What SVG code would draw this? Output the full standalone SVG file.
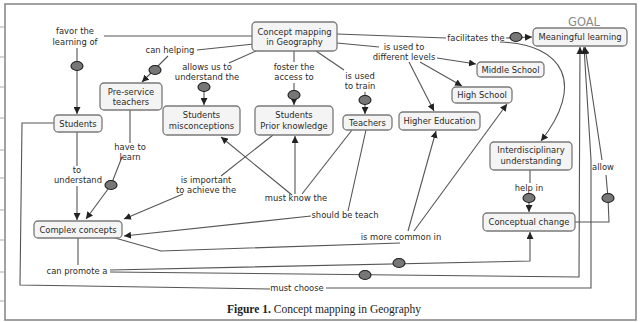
<svg xmlns="http://www.w3.org/2000/svg" width="641" height="322" viewBox="0 0 641 322">
<style>
.box{fill:#f4f4f4;stroke:#7a7a7a;stroke-width:1.3}
.nt{font-family:"DejaVu Sans",Verdana,sans-serif;font-size:8.4px;fill:#2a2a2a;text-anchor:middle}
.lt{font-family:"DejaVu Sans",Verdana,sans-serif;font-size:8.4px;fill:#2a2a2a;text-anchor:middle}
.ln{fill:none;stroke:#555;stroke-width:1.1}
.ar{marker-end:url(#ah)}
.dot{fill:#777;stroke:#1e1e1e;stroke-width:1.1}
.tick{stroke:#aaa;stroke-width:1}
</style>
<defs>
<marker id="ah" viewBox="0 0 8 8" refX="8" refY="4" markerWidth="7" markerHeight="7" markerUnits="userSpaceOnUse" orient="auto">
<path d="M0,0 L8,4 L0,8 z" fill="#222"/>
</marker>
</defs>
<rect width="641" height="322" fill="#fff"/>
<g id="frame">
<rect x="5" y="4" width="631" height="316" fill="#fff" stroke="#8a8a8a" stroke-width="1.6"/>
<line class="tick" x1="0" y1="27" x2="4" y2="27"/>
<line class="tick" x1="0" y1="57" x2="4" y2="57"/>
<line class="tick" x1="0" y1="87" x2="4" y2="87"/>
<line class="tick" x1="0" y1="118" x2="4" y2="118"/>
<line class="tick" x1="0" y1="150" x2="4" y2="150"/>
<line class="tick" x1="0" y1="178" x2="4" y2="178"/>
<line class="tick" x1="0" y1="210" x2="4" y2="210"/>
<line class="tick" x1="0" y1="240" x2="4" y2="240"/>
<line class="tick" x1="0" y1="272" x2="4" y2="272"/>
<line class="tick" x1="0" y1="301" x2="4" y2="301"/>
</g>
<g id="connectors">
<path class="ln" d="M252,36 L104,36"/>
<path class="ln ar" d="M77,48 L77,114"/>
<path class="ln" d="M254,44 L197,50"/>
<path class="ln ar" d="M168,56 L142,82"/>
<path class="ln" d="M256,51 L229,63"/>
<path class="ln ar" d="M204,83 L204,105"/>
<path class="ln" d="M294,51 L294,62"/>
<path class="ln ar" d="M294,83 L294,105"/>
<path class="ln" d="M316,51 L344,70"/>
<path class="ln ar" d="M365,92 L365,114"/>
<path class="ln" d="M337,43 L379,47"/>
<path class="ln ar" d="M437,58 L476,64"/>
<path class="ln ar" d="M420,62 L462,86"/>
<path class="ln ar" d="M409,62 L434,111"/>
<path class="ln" d="M337,34 L446,38"/>
<path class="ln ar" d="M506,38 L532,37"/>
<path class="ln ar" d="M500,42 C565,44 585,85 541,141"/>
<path class="ln" d="M54,123 L22,123 L20,285 L270,289"/>
<path class="ln ar" d="M326,288 L591,288 L591,160 L584,47"/>
<path class="ln" d="M78,238 L78,265"/>
<path class="ln ar" d="M110,270 L530,261 L530,232"/>
<path class="ln ar" d="M110,272 L579,277 L580,47"/>
<path class="ln" d="M77,132 L77,166"/>
<path class="ln ar" d="M77,186 L77,220"/>
<path class="ln" d="M130,110 L130,143"/>
<path class="ln ar" d="M122,157 L111,185 L86,219"/>
<path class="ln" d="M273,135 L221,176"/>
<path class="ln ar" d="M183,194 L124,219"/>
<path class="ln" d="M352,130 L302,194"/>
<path class="ln ar" d="M292,195 L221,137"/>
<path class="ln ar" d="M295,194 L295,136"/>
<path class="ln" d="M366,130 L348,211"/>
<path class="ln ar" d="M311,216 L124,236"/>
<path class="ln" d="M115,238 L161,251 L400,243"/>
<path class="ln ar" d="M408,231 L436,131"/>
<path class="ln ar" d="M414,231 L507,104"/>
<path class="ln" d="M530,170 L530,183"/>
<path class="ln ar" d="M529,193 L529,212"/>
<path class="ln" d="M575,222 L609,222 L608,198 L606,175"/>
<path class="ln ar" d="M602,160 L585,47"/>
<ellipse class="dot" cx="77" cy="66" rx="6" ry="4.5"/>
<ellipse class="dot" cx="155" cy="70" rx="6" ry="4.5"/>
<ellipse class="dot" cx="204" cy="87" rx="6" ry="4.5"/>
<ellipse class="dot" cx="294" cy="95" rx="6" ry="4.5"/>
<ellipse class="dot" cx="365" cy="100" rx="6" ry="4.5"/>
<ellipse class="dot" cx="516" cy="37" rx="6" ry="4.5"/>
<ellipse class="dot" cx="111" cy="185" rx="6" ry="4.5"/>
<ellipse class="dot" cx="529" cy="198" rx="6" ry="4.5"/>
<ellipse class="dot" cx="608" cy="198" rx="6" ry="4.5"/>
<ellipse class="dot" cx="399" cy="263" rx="6" ry="4.5"/>
<ellipse class="dot" cx="365" cy="275" rx="6" ry="4.5"/>
</g>
<g id="link-labels">
<text class="lt" x="75" y="34">favor the</text>
<text class="lt" x="75" y="45">learning of</text>
<text class="lt" x="170" y="53">can helping</text>
<text class="lt" x="207" y="70">allows us to</text>
<text class="lt" x="207" y="80">understand the</text>
<text class="lt" x="294" y="70">foster the</text>
<text class="lt" x="294" y="80">access to</text>
<text class="lt" x="360" y="79">is used</text>
<text class="lt" x="360" y="89">to train</text>
<text class="lt" x="404" y="50">is used to</text>
<text class="lt" x="404" y="60">different levels</text>
<text class="lt" x="476" y="41">facilitates the</text>
<text class="lt" x="130" y="150">have to</text>
<text class="lt" x="130" y="160">learn</text>
<text class="lt" x="77" y="173">to</text>
<text class="lt" x="78" y="183">understand</text>
<text class="lt" x="206" y="183">is important</text>
<text class="lt" x="206" y="193">to achieve the</text>
<text class="lt" x="296" y="201">must know the</text>
<text class="lt" x="345" y="218">should be teach</text>
<text class="lt" x="401" y="240">is more common in</text>
<text class="lt" x="529" y="191">help in</text>
<text class="lt" x="603" y="170">allow</text>
<text class="lt" x="77" y="274">can promote a</text>
<text class="lt" x="297" y="291">must choose</text>
</g>
<g id="concept-mapping">
<rect class="box" x="252" y="22" width="85" height="29" rx="4"/>
<text class="nt" x="294.5" y="35">Concept mapping</text>
<text class="nt" x="294.5" y="45">in Geography</text>
</g>
<g id="meaningful-learning">
<text x="584" y="26" font-family="DejaVu Sans, Verdana, sans-serif" font-size="11.5" fill="#8a8a8a" text-anchor="middle">GOAL</text>
<rect class="box" x="533" y="28" width="94" height="18" rx="4"/>
<text class="nt" x="580" y="40">Meaningful learning</text>
</g>
<g id="middle-school">
<rect class="box" x="477" y="62" width="67" height="15" rx="4"/>
<text class="nt" x="510.5" y="72.5">Middle School</text>
</g>
<g id="high-school">
<rect class="box" x="452" y="87" width="60" height="16" rx="4"/>
<text class="nt" x="482" y="98">High School</text>
</g>
<g id="higher-education">
<rect class="box" x="399" y="112" width="81" height="18" rx="4"/>
<text class="nt" x="439.5" y="124">Higher Education</text>
</g>
<g id="teachers">
<rect class="box" x="343" y="115" width="49" height="15" rx="4"/>
<text class="nt" x="367.5" y="125.5">Teachers</text>
</g>
<g id="prior-knowledge">
<rect class="box" x="255" y="106" width="78" height="29" rx="4"/>
<text class="nt" x="294" y="118">Students</text>
<text class="nt" x="294" y="129">Prior knowledge</text>
</g>
<g id="misconceptions">
<rect class="box" x="163" y="106" width="77" height="29" rx="4"/>
<text class="nt" x="201.5" y="118">Students</text>
<text class="nt" x="201.5" y="129">misconceptions</text>
</g>
<g id="pre-service">
<rect class="box" x="100" y="83" width="62" height="27" rx="4"/>
<text class="nt" x="131" y="95">Pre-service</text>
<text class="nt" x="131" y="105">teachers</text>
</g>
<g id="students">
<rect class="box" x="54" y="115" width="48" height="17" rx="4"/>
<text class="nt" x="78" y="126.5">Students</text>
</g>
<g id="complex-concepts">
<rect class="box" x="34" y="221" width="88" height="17" rx="4"/>
<text class="nt" x="78" y="232.5">Complex concepts</text>
</g>
<g id="interdisciplinary">
<rect class="box" x="490" y="142" width="82" height="28" rx="4"/>
<text class="nt" x="531" y="153">Interdisciplinary</text>
<text class="nt" x="531" y="164">understanding</text>
</g>
<g id="conceptual-change">
<rect class="box" x="483" y="213" width="92" height="18" rx="4"/>
<text class="nt" x="529" y="225">Conceptual change</text>
</g>
<g id="caption">
<text x="324" y="313" font-family="Liberation Serif, Times New Roman, serif" font-size="11.5" fill="#222" text-anchor="middle"><tspan font-weight="bold">Figure 1.</tspan> Concept mapping in Geography</text>
</g>
</svg>
